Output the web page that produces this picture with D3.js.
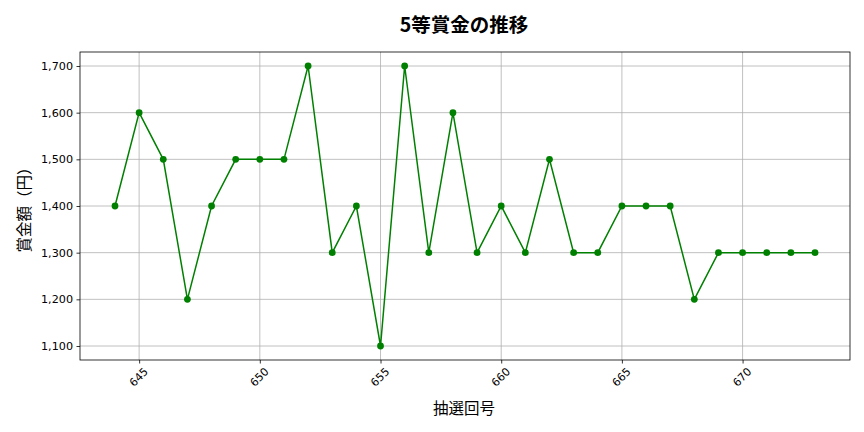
<!DOCTYPE html>
<html><head><meta charset="utf-8">
<script src="https://cdn.jsdelivr.net/npm/d3@7"></script>
<style>
body{margin:0;background:#fff;}
text{font-family:"Noto Sans CJK JP","DejaVu Sans",sans-serif;}
.tk text{font-family:"DejaVu Sans",sans-serif;}
</style></head>
<body><svg id="c" width="864" height="432"></svg>
<script>
const rounds = [644,645,646,647,648,649,650,651,652,653,654,655,656,657,658,659,660,661,662,663,664,665,666,667,668,669,670,671,672,673];
const prizes = [1400,1600,1500,1200,1400,1500,1500,1500,1700,1300,1400,1100,1700,1300,1600,1300,1400,1300,1500,1300,1300,1400,1400,1400,1200,1300,1300,1300,1300,1300];
const xTicks = [645,650,655,660,665,670];
const yTicks = [1100,1200,1300,1400,1500,1600,1700];
const title = "5等賞金の推移";
const xLabel = "抽選回号";
const yLabel = "賞金額（円）";

const svg = d3.select("#c");
const L=80, R=850, T=52, B=360;
const xr = d3.extent(rounds), xp=(xr[1]-xr[0])*0.05;
const yr = d3.extent(prizes), yp=(yr[1]-yr[0])*0.05;
const x = d3.scaleLinear().domain([xr[0]-xp, xr[1]+xp]).range([L,R]);
const y = d3.scaleLinear().domain([yr[0]-yp, yr[1]+yp]).range([B,T]);

// grid
const g = svg.append("g");
g.selectAll(".gx").data(xTicks).enter().append("line")
 .attr("x1",d=>x(d)).attr("x2",d=>x(d)).attr("y1",T).attr("y2",B)
 .attr("stroke","#b0b0b0").attr("stroke-width",0.8);
g.selectAll(".gy").data(yTicks).enter().append("line")
 .attr("x1",L).attr("x2",R).attr("y1",d=>y(d)).attr("y2",d=>y(d))
 .attr("stroke","#b0b0b0").attr("stroke-width",0.8);

// axes
const fmt = d3.format(",");
const xa = svg.append("g").attr("class","tk").attr("transform",`translate(0,${B})`)
 .call(d3.axisBottom(x).tickValues(xTicks).tickSize(3.5).tickSizeOuter(0).tickPadding(3));
xa.selectAll("text").attr("font-size",11).attr("fill","#000")
 .attr("text-anchor","middle").attr("x",0).attr("y",0).attr("dy","0.35em")
 .attr("transform","translate(-1,17) rotate(-45)");
const ya = svg.append("g").attr("class","tk").attr("transform",`translate(${L},0)`)
 .call(d3.axisLeft(y).tickValues(yTicks).tickFormat(fmt).tickSize(3.5).tickSizeOuter(0).tickPadding(3.5));
ya.selectAll("text").attr("font-size",11.2).attr("fill","#000");
svg.selectAll(".domain").remove();
svg.selectAll(".tick line").attr("stroke","#000").attr("stroke-width",0.8);
svg.append("rect").attr("x",L).attr("y",T).attr("width",R-L).attr("height",B-T)
 .attr("fill","none").attr("stroke","#000").attr("stroke-width",0.8);

// line
svg.append("path").datum(rounds.map((r,i)=>[r,prizes[i]]))
 .attr("d",d3.line().x(d=>x(d[0])).y(d=>y(d[1])))
 .attr("fill","none").attr("stroke","green").attr("stroke-width",1.5);
svg.selectAll(".pt").data(rounds).enter().append("circle")
 .attr("cx",d=>x(d)).attr("cy",(d,i)=>y(prizes[i])).attr("r",3.4).attr("fill","green");

// labels
svg.append("text").attr("x",(L+R)/2-1).attr("y",32).attr("text-anchor","middle")
 .attr("font-size",19.5).attr("font-weight","bold").text(title);
svg.append("text").attr("x",(L+R)/2-1).attr("y",414).attr("text-anchor","middle")
 .attr("font-size",15.5).text(xLabel);
svg.append("text").attr("transform",`translate(30,${(T+B)/2}) rotate(-90)`).attr("text-anchor","middle")
 .attr("font-size",15.5).text(yLabel);
</script></body></html>
